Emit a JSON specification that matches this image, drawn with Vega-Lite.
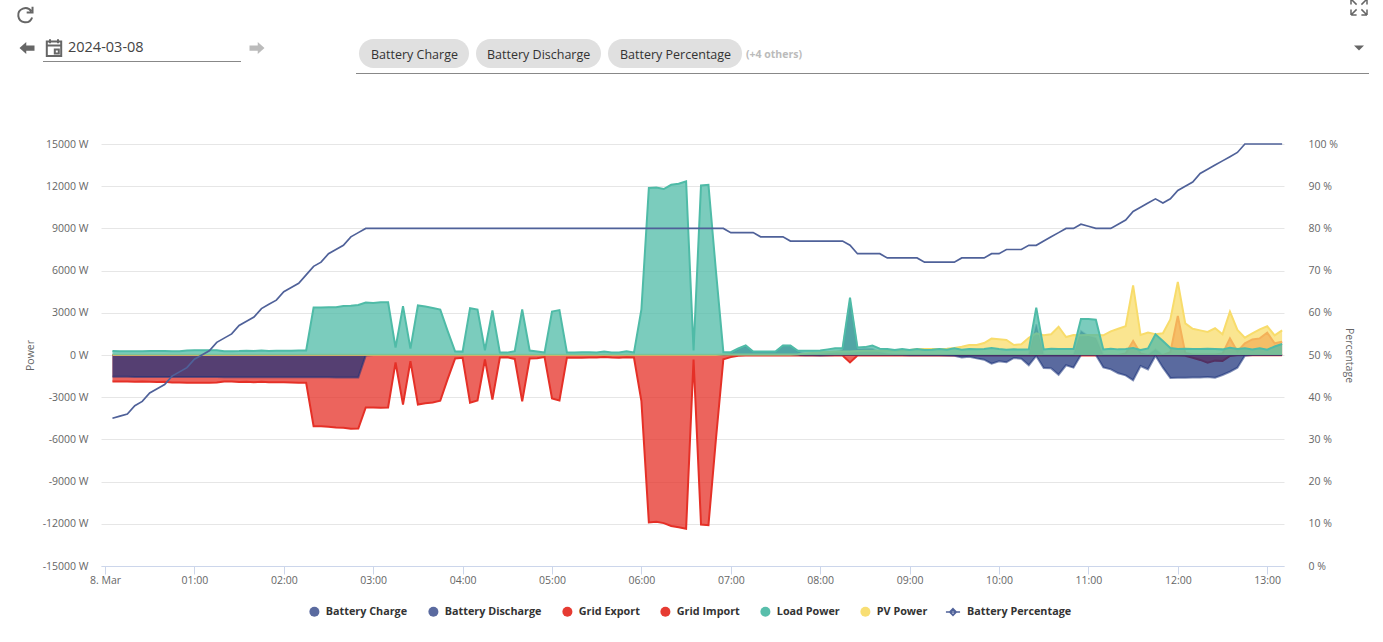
{"$schema":"https://vega.github.io/schema/vega-lite/v6.json","width":1183,"height":422,"autosize":"none","padding":{"left":101,"top":144,"right":99,"bottom":76},"background":"#ffffff","config":{"view":{"stroke":null},"font":"Open Sans"},
"datasets":{"power":[
{"t":"2024-03-08T00:05","charge":-1550,"discharge":0,"gex":0,"gim":-1880,"load":280,"pv":20,"pct":35},
{"t":"2024-03-08T00:10","charge":-1550,"discharge":0,"gex":0,"gim":-1880,"load":270,"pv":20,"pct":35.5},
{"t":"2024-03-08T00:15","charge":-1555,"discharge":0,"gex":0,"gim":-1890,"load":260,"pv":20,"pct":36},
{"t":"2024-03-08T00:20","charge":-1560,"discharge":0,"gex":0,"gim":-1900,"load":265,"pv":20,"pct":38},
{"t":"2024-03-08T00:25","charge":-1560,"discharge":0,"gex":0,"gim":-1880,"load":275,"pv":20,"pct":39},
{"t":"2024-03-08T00:30","charge":-1560,"discharge":0,"gex":0,"gim":-1900,"load":285,"pv":20,"pct":41},
{"t":"2024-03-08T00:35","charge":-1560,"discharge":0,"gex":0,"gim":-1920,"load":290,"pv":20,"pct":42},
{"t":"2024-03-08T00:40","charge":-1565,"discharge":0,"gex":0,"gim":-1910,"load":280,"pv":20,"pct":43},
{"t":"2024-03-08T00:45","charge":-1565,"discharge":0,"gex":0,"gim":-1950,"load":270,"pv":20,"pct":45},
{"t":"2024-03-08T00:50","charge":-1565,"discharge":0,"gex":0,"gim":-1960,"load":270,"pv":20,"pct":46},
{"t":"2024-03-08T00:55","charge":-1570,"discharge":0,"gex":0,"gim":-1970,"load":320,"pv":20,"pct":47},
{"t":"2024-03-08T01:00","charge":-1570,"discharge":0,"gex":0,"gim":-1980,"load":340,"pv":20,"pct":49},
{"t":"2024-03-08T01:05","charge":-1570,"discharge":0,"gex":0,"gim":-1970,"load":340,"pv":20,"pct":50},
{"t":"2024-03-08T01:10","charge":-1570,"discharge":0,"gex":0,"gim":-1970,"load":330,"pv":20,"pct":51},
{"t":"2024-03-08T01:15","charge":-1570,"discharge":0,"gex":0,"gim":-1960,"load":330,"pv":20,"pct":53},
{"t":"2024-03-08T01:20","charge":-1575,"discharge":0,"gex":0,"gim":-1880,"load":260,"pv":20,"pct":54},
{"t":"2024-03-08T01:25","charge":-1575,"discharge":0,"gex":0,"gim":-1890,"load":270,"pv":20,"pct":55},
{"t":"2024-03-08T01:30","charge":-1575,"discharge":0,"gex":0,"gim":-1920,"load":280,"pv":20,"pct":57},
{"t":"2024-03-08T01:35","charge":-1575,"discharge":0,"gex":0,"gim":-1900,"load":310,"pv":20,"pct":58},
{"t":"2024-03-08T01:40","charge":-1580,"discharge":0,"gex":0,"gim":-1930,"load":290,"pv":20,"pct":59},
{"t":"2024-03-08T01:45","charge":-1580,"discharge":0,"gex":0,"gim":-1910,"load":320,"pv":20,"pct":61},
{"t":"2024-03-08T01:50","charge":-1580,"discharge":0,"gex":0,"gim":-1930,"load":290,"pv":20,"pct":62},
{"t":"2024-03-08T01:55","charge":-1580,"discharge":0,"gex":0,"gim":-1930,"load":300,"pv":20,"pct":63},
{"t":"2024-03-08T02:00","charge":-1580,"discharge":0,"gex":0,"gim":-1940,"load":300,"pv":20,"pct":65},
{"t":"2024-03-08T02:05","charge":-1580,"discharge":0,"gex":0,"gim":-1950,"load":310,"pv":20,"pct":66},
{"t":"2024-03-08T02:10","charge":-1585,"discharge":0,"gex":0,"gim":-1970,"load":320,"pv":20,"pct":67},
{"t":"2024-03-08T02:15","charge":-1585,"discharge":0,"gex":0,"gim":-1980,"load":320,"pv":20,"pct":69},
{"t":"2024-03-08T02:20","charge":-1590,"discharge":0,"gex":0,"gim":-5060,"load":3370,"pv":20,"pct":71},
{"t":"2024-03-08T02:25","charge":-1590,"discharge":0,"gex":0,"gim":-5070,"load":3370,"pv":20,"pct":72},
{"t":"2024-03-08T02:30","charge":-1590,"discharge":0,"gex":0,"gim":-5100,"load":3400,"pv":20,"pct":74},
{"t":"2024-03-08T02:35","charge":-1595,"discharge":0,"gex":0,"gim":-5150,"load":3400,"pv":20,"pct":75},
{"t":"2024-03-08T02:40","charge":-1595,"discharge":0,"gex":0,"gim":-5180,"load":3480,"pv":20,"pct":76},
{"t":"2024-03-08T02:45","charge":-1600,"discharge":0,"gex":0,"gim":-5250,"load":3500,"pv":20,"pct":78},
{"t":"2024-03-08T02:50","charge":-1600,"discharge":0,"gex":0,"gim":-5230,"load":3560,"pv":20,"pct":79},
{"t":"2024-03-08T02:55","charge":-40,"discharge":0,"gex":0,"gim":-3730,"load":3730,"pv":20,"pct":80},
{"t":"2024-03-08T03:00","charge":0,"discharge":0,"gex":0,"gim":-3730,"load":3700,"pv":20,"pct":80},
{"t":"2024-03-08T03:05","charge":0,"discharge":0,"gex":0,"gim":-3750,"load":3750,"pv":20,"pct":80},
{"t":"2024-03-08T03:10","charge":0,"discharge":0,"gex":0,"gim":-3730,"load":3750,"pv":20,"pct":80},
{"t":"2024-03-08T03:15","charge":0,"discharge":0,"gex":0,"gim":-530,"load":520,"pv":20,"pct":80},
{"t":"2024-03-08T03:20","charge":0,"discharge":0,"gex":0,"gim":-3520,"load":3470,"pv":20,"pct":80},
{"t":"2024-03-08T03:25","charge":0,"discharge":0,"gex":0,"gim":-440,"load":450,"pv":20,"pct":80},
{"t":"2024-03-08T03:30","charge":0,"discharge":0,"gex":0,"gim":-3520,"load":3520,"pv":20,"pct":80},
{"t":"2024-03-08T03:35","charge":0,"discharge":0,"gex":0,"gim":-3430,"load":3440,"pv":20,"pct":80},
{"t":"2024-03-08T03:40","charge":0,"discharge":0,"gex":0,"gim":-3380,"load":3340,"pv":20,"pct":80},
{"t":"2024-03-08T03:45","charge":0,"discharge":0,"gex":0,"gim":-3250,"load":3230,"pv":20,"pct":80},
{"t":"2024-03-08T03:50","charge":0,"discharge":0,"gex":0,"gim":-1700,"load":1700,"pv":20,"pct":80},
{"t":"2024-03-08T03:55","charge":0,"discharge":0,"gex":0,"gim":-250,"load":250,"pv":20,"pct":80},
{"t":"2024-03-08T04:00","charge":0,"discharge":0,"gex":0,"gim":-200,"load":240,"pv":20,"pct":80},
{"t":"2024-03-08T04:05","charge":0,"discharge":0,"gex":0,"gim":-3390,"load":3330,"pv":20,"pct":80},
{"t":"2024-03-08T04:10","charge":0,"discharge":0,"gex":0,"gim":-3230,"load":3230,"pv":20,"pct":80},
{"t":"2024-03-08T04:15","charge":0,"discharge":0,"gex":0,"gim":-320,"load":340,"pv":20,"pct":80},
{"t":"2024-03-08T04:20","charge":0,"discharge":0,"gex":0,"gim":-3170,"load":3170,"pv":20,"pct":80},
{"t":"2024-03-08T04:25","charge":0,"discharge":0,"gex":0,"gim":-180,"load":180,"pv":20,"pct":80},
{"t":"2024-03-08T04:30","charge":0,"discharge":0,"gex":0,"gim":-160,"load":170,"pv":20,"pct":80},
{"t":"2024-03-08T04:35","charge":0,"discharge":0,"gex":0,"gim":-280,"load":270,"pv":20,"pct":80},
{"t":"2024-03-08T04:40","charge":0,"discharge":0,"gex":0,"gim":-3300,"load":3235,"pv":20,"pct":80},
{"t":"2024-03-08T04:45","charge":0,"discharge":0,"gex":0,"gim":-250,"load":320,"pv":20,"pct":80},
{"t":"2024-03-08T04:50","charge":0,"discharge":0,"gex":0,"gim":-230,"load":250,"pv":20,"pct":80},
{"t":"2024-03-08T04:55","charge":0,"discharge":0,"gex":0,"gim":-150,"load":170,"pv":20,"pct":80},
{"t":"2024-03-08T05:00","charge":0,"discharge":0,"gex":0,"gim":-3090,"load":3090,"pv":20,"pct":80},
{"t":"2024-03-08T05:05","charge":0,"discharge":0,"gex":0,"gim":-3230,"load":3190,"pv":20,"pct":80},
{"t":"2024-03-08T05:10","charge":0,"discharge":0,"gex":0,"gim":-200,"load":180,"pv":20,"pct":80},
{"t":"2024-03-08T05:15","charge":0,"discharge":0,"gex":0,"gim":-190,"load":180,"pv":20,"pct":80},
{"t":"2024-03-08T05:20","charge":0,"discharge":0,"gex":0,"gim":-190,"load":190,"pv":20,"pct":80},
{"t":"2024-03-08T05:25","charge":0,"discharge":0,"gex":0,"gim":-170,"load":200,"pv":20,"pct":80},
{"t":"2024-03-08T05:30","charge":0,"discharge":0,"gex":0,"gim":-180,"load":170,"pv":20,"pct":80},
{"t":"2024-03-08T05:35","charge":0,"discharge":0,"gex":0,"gim":-150,"load":240,"pv":20,"pct":80},
{"t":"2024-03-08T05:40","charge":0,"discharge":0,"gex":0,"gim":-180,"load":180,"pv":20,"pct":80},
{"t":"2024-03-08T05:45","charge":0,"discharge":0,"gex":0,"gim":-190,"load":170,"pv":20,"pct":80},
{"t":"2024-03-08T05:50","charge":0,"discharge":0,"gex":0,"gim":-160,"load":260,"pv":20,"pct":80},
{"t":"2024-03-08T05:55","charge":0,"discharge":0,"gex":0,"gim":-180,"load":170,"pv":20,"pct":80},
{"t":"2024-03-08T06:00","charge":0,"discharge":0,"gex":0,"gim":-3280,"load":3235,"pv":20,"pct":80},
{"t":"2024-03-08T06:05","charge":0,"discharge":0,"gex":0,"gim":-11900,"load":11880,"pv":20,"pct":80},
{"t":"2024-03-08T06:10","charge":0,"discharge":0,"gex":0,"gim":-11850,"load":11900,"pv":20,"pct":80},
{"t":"2024-03-08T06:15","charge":0,"discharge":0,"gex":0,"gim":-11950,"load":11800,"pv":20,"pct":80},
{"t":"2024-03-08T06:20","charge":0,"discharge":0,"gex":0,"gim":-12150,"load":12100,"pv":20,"pct":80},
{"t":"2024-03-08T06:25","charge":0,"discharge":0,"gex":0,"gim":-12250,"load":12180,"pv":20,"pct":80},
{"t":"2024-03-08T06:30","charge":0,"discharge":0,"gex":0,"gim":-12350,"load":12350,"pv":20,"pct":80},
{"t":"2024-03-08T06:35","charge":0,"discharge":0,"gex":0,"gim":-320,"load":320,"pv":20,"pct":80},
{"t":"2024-03-08T06:40","charge":0,"discharge":0,"gex":0,"gim":-12050,"load":12050,"pv":20,"pct":80},
{"t":"2024-03-08T06:45","charge":0,"discharge":0,"gex":0,"gim":-12100,"load":12100,"pv":20,"pct":80},
{"t":"2024-03-08T06:50","charge":0,"discharge":0,"gex":0,"gim":-6000,"load":6000,"pv":20,"pct":80},
{"t":"2024-03-08T06:55","charge":0,"discharge":0,"gex":0,"gim":-300,"load":200,"pv":30,"pct":80},
{"t":"2024-03-08T07:00","charge":0,"discharge":100,"gex":0,"gim":-150,"load":200,"pv":40,"pct":79},
{"t":"2024-03-08T07:05","charge":0,"discharge":400,"gex":0,"gim":-50,"load":460,"pv":40,"pct":79},
{"t":"2024-03-08T07:10","charge":0,"discharge":650,"gex":0,"gim":-30,"load":675,"pv":40,"pct":79},
{"t":"2024-03-08T07:15","charge":0,"discharge":220,"gex":0,"gim":-30,"load":250,"pv":40,"pct":79},
{"t":"2024-03-08T07:20","charge":0,"discharge":220,"gex":0,"gim":-30,"load":250,"pv":40,"pct":78},
{"t":"2024-03-08T07:25","charge":0,"discharge":220,"gex":0,"gim":-30,"load":250,"pv":40,"pct":78},
{"t":"2024-03-08T07:30","charge":0,"discharge":220,"gex":0,"gim":-30,"load":250,"pv":40,"pct":78},
{"t":"2024-03-08T07:35","charge":0,"discharge":650,"gex":0,"gim":-30,"load":675,"pv":40,"pct":78},
{"t":"2024-03-08T07:40","charge":0,"discharge":640,"gex":0,"gim":-30,"load":670,"pv":40,"pct":77},
{"t":"2024-03-08T07:45","charge":0,"discharge":250,"gex":0,"gim":-30,"load":300,"pv":60,"pct":77},
{"t":"2024-03-08T07:50","charge":-10,"discharge":80,"gex":0,"gim":-30,"load":300,"pv":100,"pct":77},
{"t":"2024-03-08T07:55","charge":-20,"discharge":80,"gex":0,"gim":-30,"load":300,"pv":150,"pct":77},
{"t":"2024-03-08T08:00","charge":-30,"discharge":80,"gex":0,"gim":-30,"load":320,"pv":200,"pct":77},
{"t":"2024-03-08T08:05","charge":-10,"discharge":120,"gex":0,"gim":-30,"load":400,"pv":220,"pct":77},
{"t":"2024-03-08T08:10","charge":0,"discharge":200,"gex":0,"gim":-30,"load":480,"pv":250,"pct":77},
{"t":"2024-03-08T08:15","charge":0,"discharge":350,"gex":0,"gim":-40,"load":480,"pv":250,"pct":77},
{"t":"2024-03-08T08:20","charge":0,"discharge":3800,"gex":0,"gim":-530,"load":4080,"pv":250,"pct":76},
{"t":"2024-03-08T08:25","charge":0,"discharge":400,"gex":0,"gim":-40,"load":530,"pv":280,"pct":74},
{"t":"2024-03-08T08:30","charge":0,"discharge":450,"gex":0,"gim":-30,"load":560,"pv":300,"pct":74},
{"t":"2024-03-08T08:35","charge":0,"discharge":450,"gex":0,"gim":-30,"load":670,"pv":300,"pct":74},
{"t":"2024-03-08T08:40","charge":0,"discharge":200,"gex":0,"gim":-30,"load":450,"pv":300,"pct":74},
{"t":"2024-03-08T08:45","charge":0,"discharge":100,"gex":0,"gim":-30,"load":430,"pv":300,"pct":73},
{"t":"2024-03-08T08:50","charge":0,"discharge":50,"gex":0,"gim":-30,"load":350,"pv":300,"pct":73},
{"t":"2024-03-08T08:55","charge":0,"discharge":50,"gex":0,"gim":-30,"load":420,"pv":320,"pct":73},
{"t":"2024-03-08T09:00","charge":-10,"discharge":20,"gex":0,"gim":-30,"load":350,"pv":350,"pct":73},
{"t":"2024-03-08T09:05","charge":-10,"discharge":20,"gex":0,"gim":-30,"load":420,"pv":400,"pct":73},
{"t":"2024-03-08T09:10","charge":-10,"discharge":20,"gex":0,"gim":-30,"load":350,"pv":420,"pct":72},
{"t":"2024-03-08T09:15","charge":-10,"discharge":0,"gex":0,"gim":-30,"load":370,"pv":430,"pct":72},
{"t":"2024-03-08T09:20","charge":-20,"discharge":0,"gex":0,"gim":-30,"load":420,"pv":430,"pct":72},
{"t":"2024-03-08T09:25","charge":-30,"discharge":0,"gex":0,"gim":-30,"load":370,"pv":450,"pct":72},
{"t":"2024-03-08T09:30","charge":-50,"discharge":0,"gex":0,"gim":-30,"load":470,"pv":500,"pct":72},
{"t":"2024-03-08T09:35","charge":-170,"discharge":0,"gex":0,"gim":-30,"load":370,"pv":590,"pct":73},
{"t":"2024-03-08T09:40","charge":-130,"discharge":0,"gex":0,"gim":-30,"load":420,"pv":710,"pct":73},
{"t":"2024-03-08T09:45","charge":-240,"discharge":0,"gex":0,"gim":-30,"load":400,"pv":710,"pct":73},
{"t":"2024-03-08T09:50","charge":-330,"discharge":0,"gex":0,"gim":-30,"load":430,"pv":850,"pct":73},
{"t":"2024-03-08T09:55","charge":-620,"discharge":0,"gex":0,"gim":-30,"load":500,"pv":1170,"pct":74},
{"t":"2024-03-08T10:00","charge":-450,"discharge":0,"gex":0,"gim":-30,"load":430,"pv":1120,"pct":74},
{"t":"2024-03-08T10:05","charge":-520,"discharge":0,"gex":0,"gim":-30,"load":380,"pv":1070,"pct":75},
{"t":"2024-03-08T10:10","charge":-210,"discharge":0,"gex":0,"gim":-30,"load":400,"pv":710,"pct":75},
{"t":"2024-03-08T10:15","charge":-260,"discharge":0,"gex":0,"gim":-30,"load":390,"pv":760,"pct":75},
{"t":"2024-03-08T10:20","charge":-730,"discharge":0,"gex":0,"gim":-30,"load":400,"pv":1230,"pct":76},
{"t":"2024-03-08T10:25","charge":-70,"discharge":2180,"gex":0,"gim":-30,"load":3370,"pv":1540,"pct":76},
{"t":"2024-03-08T10:30","charge":-920,"discharge":0,"gex":0,"gim":-30,"load":400,"pv":1400,"pct":77},
{"t":"2024-03-08T10:35","charge":-950,"discharge":0,"gex":0,"gim":-30,"load":450,"pv":1470,"pct":78},
{"t":"2024-03-08T10:40","charge":-1400,"discharge":0,"gex":0,"gim":-30,"load":430,"pv":2010,"pct":79},
{"t":"2024-03-08T10:45","charge":-730,"discharge":0,"gex":0,"gim":-30,"load":430,"pv":1280,"pct":80},
{"t":"2024-03-08T10:50","charge":-900,"discharge":0,"gex":0,"gim":-30,"load":430,"pv":1420,"pct":80},
{"t":"2024-03-08T10:55","charge":0,"discharge":1700,"gex":0,"gim":-30,"load":2560,"pv":1400,"pct":81},
{"t":"2024-03-08T11:00","charge":0,"discharge":1350,"gex":0,"gim":-30,"load":2560,"pv":1420,"pct":80.5},
{"t":"2024-03-08T11:05","charge":0,"discharge":1200,"gex":0,"gim":-30,"load":2510,"pv":1420,"pct":80},
{"t":"2024-03-08T11:10","charge":-880,"discharge":0,"gex":0,"gim":-30,"load":400,"pv":1400,"pct":80},
{"t":"2024-03-08T11:15","charge":-1020,"discharge":0,"gex":0,"gim":-30,"load":440,"pv":1680,"pct":80},
{"t":"2024-03-08T11:20","charge":-1300,"discharge":0,"gex":0,"gim":-30,"load":400,"pv":1870,"pct":81},
{"t":"2024-03-08T11:25","charge":-1450,"discharge":0,"gex":100,"gim":-30,"load":420,"pv":2040,"pct":82},
{"t":"2024-03-08T11:30","charge":-1800,"discharge":0,"gex":1000,"gim":-30,"load":490,"pv":4950,"pct":84},
{"t":"2024-03-08T11:35","charge":-780,"discharge":0,"gex":100,"gim":-30,"load":350,"pv":1420,"pct":85},
{"t":"2024-03-08T11:40","charge":-1020,"discharge":0,"gex":0,"gim":-30,"load":470,"pv":1590,"pct":86},
{"t":"2024-03-08T11:45","charge":-50,"discharge":400,"gex":0,"gim":-30,"load":1470,"pv":1470,"pct":87},
{"t":"2024-03-08T11:50","charge":-900,"discharge":0,"gex":0,"gim":-30,"load":1000,"pv":1540,"pct":86},
{"t":"2024-03-08T11:55","charge":-1630,"discharge":0,"gex":200,"gim":-30,"load":500,"pv":2530,"pct":87},
{"t":"2024-03-08T12:00","charge":-1610,"discharge":0,"gex":2770,"gim":-30,"load":420,"pv":5190,"pct":89},
{"t":"2024-03-08T12:05","charge":-1610,"discharge":0,"gex":150,"gim":-50,"load":450,"pv":2250,"pct":90},
{"t":"2024-03-08T12:10","charge":-1600,"discharge":0,"gex":30,"gim":-190,"load":430,"pv":1870,"pct":91},
{"t":"2024-03-08T12:15","charge":-1600,"discharge":0,"gex":30,"gim":-350,"load":430,"pv":1750,"pct":93},
{"t":"2024-03-08T12:20","charge":-1560,"discharge":0,"gex":30,"gim":-540,"load":450,"pv":1640,"pct":94},
{"t":"2024-03-08T12:25","charge":-1610,"discharge":0,"gex":30,"gim":-400,"load":430,"pv":1900,"pct":95},
{"t":"2024-03-08T12:30","charge":-1420,"discharge":0,"gex":100,"gim":-430,"load":400,"pv":1470,"pct":96},
{"t":"2024-03-08T12:35","charge":-1190,"discharge":0,"gex":1180,"gim":-70,"load":520,"pv":3080,"pct":97},
{"t":"2024-03-08T12:40","charge":-900,"discharge":0,"gex":250,"gim":-20,"load":430,"pv":1780,"pct":98},
{"t":"2024-03-08T12:45","charge":-50,"discharge":0,"gex":830,"gim":-20,"load":480,"pv":1230,"pct":100},
{"t":"2024-03-08T12:50","charge":0,"discharge":0,"gex":1110,"gim":-20,"load":400,"pv":1540,"pct":100},
{"t":"2024-03-08T12:55","charge":0,"discharge":0,"gex":1180,"gim":-20,"load":480,"pv":1820,"pct":100},
{"t":"2024-03-08T13:00","charge":0,"discharge":0,"gex":1590,"gim":-20,"load":380,"pv":2040,"pct":100},
{"t":"2024-03-08T13:05","charge":0,"discharge":0,"gex":830,"gim":-20,"load":600,"pv":1400,"pct":100},
{"t":"2024-03-08T13:10","charge":0,"discharge":0,"gex":950,"gim":-20,"load":780,"pv":1750,"pct":100}
],
"chips":[{"label":"Battery Charge","a":8,"b":10,"c":9},{"label":"Battery Discharge","a":11,"b":13,"c":12},{"label":"Battery Percentage","a":14,"b":16,"c":15}]
},
"data":{"name":"power"},
"layer":[
{"encoding":{"x":{"field":"t","type":"temporal","scale":{"domain":[{"year":2024,"month":3,"date":7,"hours":23,"minutes":57,"seconds":19},{"year":2024,"month":3,"date":8,"hours":13,"minutes":11,"seconds":16}],"nice":false},"axis":{"title":null,"values":[{"year":2024,"month":3,"date":8,"hours":0},{"year":2024,"month":3,"date":8,"hours":1},{"year":2024,"month":3,"date":8,"hours":2},{"year":2024,"month":3,"date":8,"hours":3},{"year":2024,"month":3,"date":8,"hours":4},{"year":2024,"month":3,"date":8,"hours":5},{"year":2024,"month":3,"date":8,"hours":6},{"year":2024,"month":3,"date":8,"hours":7},{"year":2024,"month":3,"date":8,"hours":8},{"year":2024,"month":3,"date":8,"hours":9},{"year":2024,"month":3,"date":8,"hours":10},{"year":2024,"month":3,"date":8,"hours":11},{"year":2024,"month":3,"date":8,"hours":12},{"year":2024,"month":3,"date":8,"hours":13}],"labelExpr":"hours(datum.value)==0?'8. Mar':timeFormat(datum.value,'%H:%M')","grid":false,"domainColor":"#ccd6eb","tickColor":"#ccd6eb","tickSize":8,"labelColor":"#666666","labelFont":"Open Sans","labelFontSize":10.5,"labelPadding":1}}},
"layer":[
{"mark":{"type":"area","line":{"strokeWidth":2},"fillOpacity":0.75},"encoding":{"y":{"field":"gim","type":"quantitative","stack":false,"scale":{"domain":[-15000,15000],"nice":false},"axis":{"title":"Power","values":[-15000,-12000,-9000,-6000,-3000,0,3000,6000,9000,12000,15000],"labelExpr":"datum.value+' W'","domain":false,"ticks":false,"grid":true,"gridColor":"#e6e6e6","labelColor":"#666666","labelFont":"Open Sans","labelFontSize":10.5,"labelPadding":13,"titleColor":"#666666","titleFont":"Open Sans","titleFontSize":10.5,"titleFontWeight":"normal","titleX":-66,"titleY":211}},"color":{"datum":"Grid Import","title":null,"scale":{"domain":["Battery Charge","Battery Discharge","Grid Export","Grid Import","Load Power","PV Power"],"range":["#1a317a","#1a317a","#e53027","#e53027","#4fbba7","#f8dc6b"]},"legend":{"orient":"none","legendX":208,"legendY":462,"direction":"horizontal","columns":6,"columnPadding":20,"symbolType":"circle","symbolSize":100,"symbolStrokeWidth":0,"labelFont":"Open Sans","labelFontWeight":"bold","labelFontSize":10.8,"labelColor":"#333333","labelOffset":6,"encode":{"symbols":{"update":{"opacity":{"signal":"indexof(datum.value,'Battery')==0?0.72:0.95"}}}}}}}},
{"mark":{"type":"area","line":{"strokeWidth":2},"fillOpacity":0.75},"encoding":{"y":{"field":"gex","type":"quantitative","stack":false},"color":{"datum":"Grid Export"}}},
{"mark":{"type":"area","line":{"strokeWidth":2,"opacity":0.55},"fillOpacity":0.72},"encoding":{"y":{"field":"charge","type":"quantitative","stack":false},"color":{"datum":"Battery Charge"}}},
{"mark":{"type":"area","line":{"strokeWidth":2,"opacity":0.3},"fillOpacity":0.72},"encoding":{"y":{"field":"discharge","type":"quantitative","stack":false},"color":{"datum":"Battery Discharge"}}},
{"mark":{"type":"area","line":{"strokeWidth":2},"fillOpacity":0.75},"encoding":{"y":{"field":"pv","type":"quantitative","stack":false},"color":{"datum":"PV Power"}}},
{"mark":{"type":"area","line":{"strokeWidth":2},"fillOpacity":0.75},"encoding":{"y":{"field":"load","type":"quantitative","stack":false},"color":{"datum":"Load Power"}}}
]},
{"mark":{"type":"line","strokeWidth":1.7},"encoding":{"x":{"field":"t","type":"temporal","scale":{"domain":[{"year":2024,"month":3,"date":7,"hours":23,"minutes":57,"seconds":19},{"year":2024,"month":3,"date":8,"hours":13,"minutes":11,"seconds":16}],"nice":false},"axis":null},"y":{"field":"pct","type":"quantitative","scale":{"domain":[0,100],"nice":false},"axis":{"orient":"right","title":"Percentage","values":[0,10,20,30,40,50,60,70,80,90,100],"labelExpr":"datum.value+' %'","domain":false,"ticks":false,"grid":false,"labelColor":"#666666","labelFont":"Open Sans","labelFontSize":10.5,"labelPadding":24,"titleColor":"#666666","titleFont":"Open Sans","titleFontSize":10.5,"titleFontWeight":"normal","titleAngle":90,"titleX":59,"titleY":211}},"color":{"datum":"Battery Percentage","title":null,"scale":{"domain":["Battery Percentage"],"range":["#4f6199"]},"legend":{"orient":"none","legendX":844,"legendY":460,"symbolType":"M-1,0H1M0,-0.45L0.45,0L0,0.45L-0.45,0Z","symbolSize":200,"symbolStrokeWidth":1.7,"labelFont":"Open Sans","labelFontWeight":"bold","labelFontSize":10.8,"labelColor":"#333333","labelOffset":6}}}},
{"layer":[
{"data":{"name":"chips"},"mark":{"type":"rect","cornerRadius":14.5,"color":"#e0e0e0"},"encoding":{"x":{"field":"a","type":"quantitative","scale":{"domain":[0,1,2,3,4,5,6,7,8,9,10,11,12,13,14,15,16,17,18,19],"range":[-76,-74,-58,-47,-33,140,156,255,258,270,368,375,386,500,507,519,641,645,1258,1268],"zero":false,"nice":false},"axis":null},"x2":{"field":"b"},"y":{"datum":2,"type":"quantitative","scale":{"domain":[0,1,2,3,4,5,6,7,8],"range":[-137,-129,-105,-96,-96,-89,-82.5,-76,-70.5],"zero":false,"nice":false},"axis":null},"y2":{"datum":7}}},
{"data":{"name":"chips"},"mark":{"type":"text","align":"left","baseline":"middle","font":"Open Sans","fontSize":12.5,"color":"#333333"},"encoding":{"x":{"field":"c","type":"quantitative"},"y":{"datum":5,"type":"quantitative"},"text":{"field":"label"}}},
{"data":{"values":[{"label":"(+4 others)","c":17}]},"mark":{"type":"text","align":"left","baseline":"middle","font":"Open Sans","fontSize":10.5,"fontWeight":"bold","color":"#bbbbbb"},"encoding":{"x":{"field":"c","type":"quantitative"},"y":{"datum":5,"type":"quantitative"},"text":{"field":"label"}}},
{"data":{"values":[{"label":"2024-03-08","c":4}]},"mark":{"type":"text","align":"left","baseline":"middle","font":"Open Sans","fontSize":14.5,"color":"#444444"},"encoding":{"x":{"field":"c","type":"quantitative"},"y":{"datum":3,"type":"quantitative"},"text":{"field":"label"}}},
{"data":{"values":[{"a":2,"b":5,"r":6},{"a":7,"b":19,"r":8}]},"mark":{"type":"rule","color":"#888888","strokeWidth":1},"encoding":{"x":{"field":"a","type":"quantitative"},"x2":{"field":"b"},"y":{"field":"r","type":"quantitative"}}},
{"data":{"values":[{"c":0,"r":1}]},"mark":{"type":"point","filled":false,"size":280,"opacity":1,"stroke":"#666666","strokeWidth":2,"shape":"M0.75,-0.45A0.85,0.85 0 1 0 0.85,0.3M0.9,-1V-0.3H0.2"},"encoding":{"x":{"field":"c","type":"quantitative"},"y":{"field":"r","type":"quantitative"}}},
{"data":{"values":[{"c":1,"r":3}]},"mark":{"type":"point","filled":true,"size":225,"opacity":1,"color":"#666666","shape":"M-1,0L-0.1,-0.8V-0.35H1V0.35H-0.1V0.8Z"},"encoding":{"x":{"field":"c","type":"quantitative"},"y":{"field":"r","type":"quantitative"}}},
{"data":{"values":[{"c":6,"r":3}]},"mark":{"type":"point","filled":true,"size":225,"opacity":1,"color":"#bbbbbb","shape":"M1,0L0.1,-0.8V-0.35H-1V0.35H0.1V0.8Z"},"encoding":{"x":{"field":"c","type":"quantitative"},"y":{"field":"r","type":"quantitative"}}},
{"data":{"values":[{"c":18,"r":4}]},"mark":{"type":"point","filled":true,"size":100,"opacity":1,"color":"#666666","shape":"M-1,-0.5H1L0,0.5Z"},"encoding":{"x":{"field":"c","type":"quantitative"},"y":{"field":"r","type":"quantitative"}}},
{"data":{"values":[{"c":3,"r":3}]},"mark":{"type":"point","filled":false,"size":256,"opacity":1,"stroke":"#666666","strokeWidth":2,"shape":"M-0.9,-0.8H0.9V1H-0.9ZM-0.9,-0.3H0.9M-0.5,-1.1V-0.6M0.5,-1.1V-0.6M0.1,0.2H0.6V0.7H0.1Z"},"encoding":{"x":{"field":"c","type":"quantitative"},"y":{"field":"r","type":"quantitative"}}},
{"data":{"values":[{"c":18,"r":0}]},"mark":{"type":"point","filled":false,"size":256,"opacity":1,"stroke":"#666666","strokeWidth":1.5,"shape":"M-1,-1L-0.3,-0.3M-1,-1H-0.3M-1,-1V-0.3M1,-1L0.3,-0.3M1,-1H0.3M1,-1V-0.3M-1,1L-0.3,0.3M-1,1H-0.3M-1,1V0.3M1,1L0.3,0.3M1,1H0.3M1,1V0.3"},"encoding":{"x":{"field":"c","type":"quantitative"},"y":{"field":"r","type":"quantitative"}}}
]}
],
"resolve":{"scale":{"x":"independent","y":"independent","color":"independent"}}}
